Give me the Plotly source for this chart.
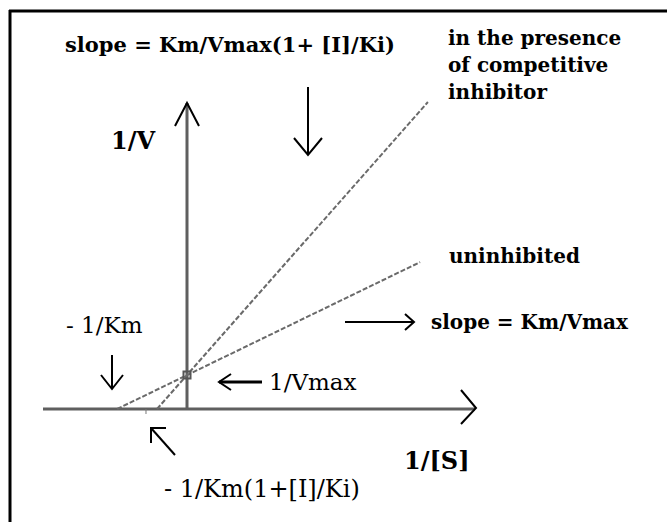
import plotly.graph_objects as go

# ---- Lineweaver-Burk data (chart units: 1/[S] horizontally, 1/V vertically) ----
inv_S_axis = [-4.8, 9.6]          # extent of the 1/[S] axis
inv_V_axis = [0.0, 9.0]           # extent of the 1/V axis
uninhibited_x = [-2.33, 7.77]     # from -1/Km to the upper end
uninhibited_y = [0.0, 4.32]
competitive_x = [-1.0, 8.03]      # from -1/Km(1+[I]/Ki) to the upper end
competitive_y = [0.0, 9.03]
vmax_point_x = [0.0]
vmax_point_y = [1.0]              # 1/Vmax intercept

W, H = 667, 522
X0, Y0, SX, SY = 187, 409, 30.0, 34.0   # pixel origin and scale (layout only)

def px(x):
    return x / W

def py(y):
    return 1 - y / H

fig = go.Figure()

AX_COL = "#5f5f5f"
LN_COL = "#6a6a6a"

# axes (as gray lines)
fig.add_trace(go.Scatter(x=inv_S_axis, y=[0, 0], mode="lines",
                         line=dict(color=AX_COL, width=3), hoverinfo="skip"))
fig.add_trace(go.Scatter(x=[0, 0], y=inv_V_axis, mode="lines",
                         line=dict(color=AX_COL, width=3), hoverinfo="skip"))
# the two lines
fig.add_trace(go.Scatter(x=uninhibited_x, y=uninhibited_y, mode="lines",
                         line=dict(color=LN_COL, width=2, dash="5px,2px")))
fig.add_trace(go.Scatter(x=competitive_x, y=competitive_y, mode="lines",
                         line=dict(color=LN_COL, width=2, dash="5px,2px")))
fig.add_trace(go.Scatter(x=vmax_point_x, y=vmax_point_y, mode="markers",
                         marker=dict(symbol="square-open", size=7,
                                     color="#555", line=dict(width=2))))

shapes = []
# frame
shapes.append(dict(type="line", xref="paper", yref="paper",
                   x0=px(9), x1=px(667), y0=py(11), y1=py(11),
                   line=dict(color="black", width=3)))
shapes.append(dict(type="line", xref="paper", yref="paper",
                   x0=px(10), x1=px(10), y0=py(10), y1=py(522),
                   line=dict(color="black", width=3)))

def path(points, width=2, color="black"):
    d = "M " + " L ".join(f"{px(x):.5f},{py(y):.5f}" for x, y in points)
    shapes.append(dict(type="path", xref="paper", yref="paper", path=d,
                       line=dict(color=color, width=width)))

# arrow heads on axes
path([(175, 126), (187, 103), (199, 126)], 2)
path([(461, 390), (476, 408), (461, 424)], 2)
# small tick under the x axis
path([(146, 409), (146, 414)], 1, "#777")
# down arrow (top)
path([(308, 87), (308, 155)], 2)
path([(294, 138), (308, 155), (322, 138)], 2)
# right arrow to "slope = Km/Vmax"
path([(345, 322), (413, 322)], 2)
path([(405, 314), (414, 322), (405, 330)], 2)
# left arrow to "1/Vmax"
path([(219, 382), (262, 382)], 3)
path([(231, 374), (219, 382), (231, 390)], 2)
# down arrow "-1/Km"
path([(112, 355), (112, 388)], 2)
path([(101, 375), (112, 389), (123, 375)], 2)
# NW arrow
path([(175, 455), (151, 428)], 2)
path([(151, 443), (151, 428), (166, 428)], 2)

BOLD = dict(family="DejaVu Serif", color="black", size=21, weight="bold")
REG = dict(family="DejaVu Serif", color="black", size=23)

annots = []
def text(t, x, y, font, xanchor="left", yanchor="middle"):
    annots.append(dict(text=t, x=px(x), y=py(y), xref="paper", yref="paper",
                       showarrow=False, xanchor=xanchor, yanchor=yanchor,
                       font=font))

text("slope = Km/Vmax(1+ [I]/Ki)", 63, 44, BOLD)
text("in the presence", 446, 38, dict(BOLD, size=20))
text("of competitive", 446, 65, dict(BOLD, size=20))
text("inhibitor", 446, 92, dict(BOLD, size=20))
text("1/V", 109, 140, dict(BOLD, size=24))
text("uninhibited", 447, 256, dict(BOLD, size=20))
text("slope = Km/Vmax", 429, 322, dict(BOLD, size=20))
text("- 1/Km", 64, 325, REG)
text("1/Vmax", 267, 382, REG)
text("1/[S]", 402, 460, dict(BOLD, size=24))
text("- 1/Km(1+[I]/Ki)", 162, 489, dict(REG, size=24))

fig.update_layout(
    width=W, height=H, margin=dict(l=0, r=0, t=0, b=0),
    paper_bgcolor="white", plot_bgcolor="white", showlegend=False,
    xaxis=dict(range=[-X0 / SX, (W - X0) / SX], visible=False, fixedrange=True),
    yaxis=dict(range=[(Y0 - H) / SY, Y0 / SY], visible=False, fixedrange=True),
    shapes=shapes, annotations=annots,
)

fig.write_html("out.html", config={"displayModeBar": False},
               post_script="document.body.style.margin='0';document.body.style.overflow='hidden';")
